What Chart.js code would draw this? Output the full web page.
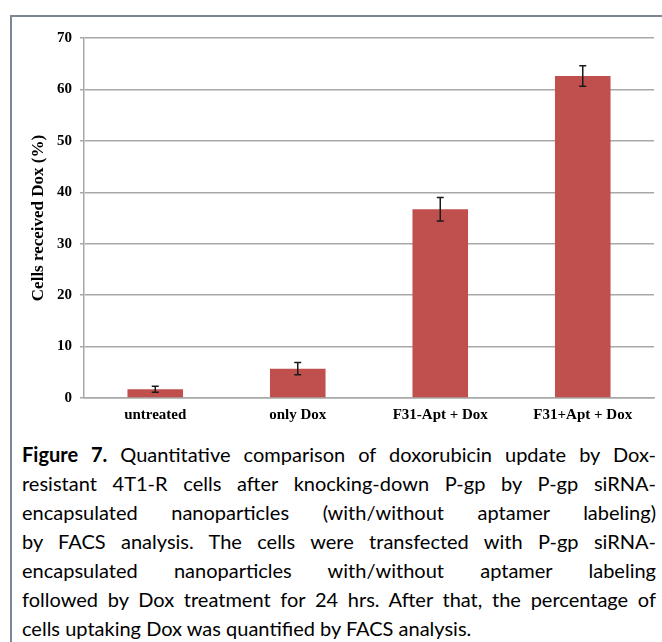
<!DOCTYPE html>
<html>
<head>
<meta charset="utf-8">
<script src="https://cdn.jsdelivr.net/npm/chart.js@4.4.1/dist/chart.umd.min.js"></script>
<style>
  html, body { margin: 0; padding: 0; background: #fff; }
  body { width: 662px; height: 642px; position: relative; overflow: hidden; }
  .frame {
    position: absolute; left: 10px; top: 15px; right: -10px; bottom: -10px;
    border-left: 2px solid #7b8794; border-top: 2px solid #7b8794;
  }
  .plot { position: absolute; left: 0; top: 0; width: 662px; height: 432px; }
  .caption {
    position: absolute; left: 22px; top: 440px; width: 634px;
    font-family: Lato, "Liberation Sans", sans-serif; font-size: 20px;
    line-height: 29px; color: #000;
  }
  .caption div { text-align: justify; text-align-last: justify; white-space: nowrap; }
  .caption div.last { text-align-last: left; }
</style>
</head>
<body>
<div class="frame"></div>
<div class="plot"><canvas id="uptakeChart"></canvas></div>
<div class="caption">
  <div><b>Figure 7.</b> Quantitative comparison of doxorubicin update by Dox-</div>
  <div>resistant 4T1-R cells after knocking-down P-gp by P-gp siRNA-</div>
  <div>encapsulated nanoparticles (with/without aptamer labeling)</div>
  <div>by FACS analysis. The cells were transfected with P-gp siRNA-</div>
  <div>encapsulated nanoparticles with/without aptamer labeling</div>
  <div>followed by Dox treatment for 24 hrs. After that, the percentage of</div>
  <div class="last">cells uptaking Dox was quantified by FACS analysis.</div>
</div>
<script>
// data
const groups = ['untreated', 'only Dox', 'F31-Apt + Dox', 'F31+Apt + Dox'];
const uptake = [1.7, 5.7, 36.7, 62.6];      // % cells received Dox
const uptakeErr = [0.6, 1.2, 2.3, 2.0];     // error bar half-length
const yTicks = [0, 10, 20, 30, 40, 50, 60, 70];

const serif = 'Liberation Serif, "Times New Roman", serif';

// error bars drawn on top of the bars
const errorBars = {
    id: 'errorBars',
    afterDatasetsDraw(chart) {
        const ctx = chart.ctx;
        const y = chart.scales.y;
        const meta = chart.getDatasetMeta(0);
        ctx.save();
        ctx.strokeStyle = '#1a1a1a';
        ctx.lineWidth = 1.5;
        meta.data.forEach((bar, i) => {
            const top = y.getPixelForValue(uptake[i] + uptakeErr[i]);
            const bottom = y.getPixelForValue(uptake[i] - uptakeErr[i]);
            ctx.beginPath();
            ctx.moveTo(bar.x, top);
            ctx.lineTo(bar.x, bottom);
            ctx.moveTo(bar.x - 3.5, top);
            ctx.lineTo(bar.x + 3.5, top);
            ctx.moveTo(bar.x - 3.5, bottom);
            ctx.lineTo(bar.x + 3.5, bottom);
            ctx.stroke();
        });
        ctx.restore();
    }
};

const ctx = document.getElementById('uptakeChart').getContext('2d');
const uptakeChart = new Chart(ctx, {
    type: 'bar',
    data: {
        labels: groups,
        datasets: [{
            data: uptake,
            backgroundColor: '#C0504D',
            borderWidth: 0,
            categoryPercentage: 1,
            barPercentage: 0.39
        }]
    },
    options: {
        responsive: true,
        maintainAspectRatio: false,
        animation: false,
        layout: {
            padding: { top: 38, right: 8, left: 0, bottom: 0 }
        },
        plugins: {
            legend: { display: false },
            tooltip: { enabled: false }
        },
        scales: {
            y: {
                min: 0,
                max: 70,
                afterBuildTicks: (axis) => { axis.ticks = yTicks.map(v => ({ value: v })); },
                afterFit: (axis) => { axis.width = 84; },
                ticks: {
                    color: '#000',
                    padding: 8,
                    font: { family: serif, size: 15, weight: 'bold' }
                },
                grid: {
                    color: '#a8a8a8',
                    lineWidth: 1.5,
                    tickLength: 4
                },
                border: { color: '#a8a8a8', width: 1.5 },
                title: {
                    display: true,
                    text: 'Cells received Dox (%)',
                    color: '#000',
                    padding: { top: 28 },
                    font: { family: serif, size: 17, weight: 'bold' }
                }
            },
            x: {
                afterFit: (axis) => { axis.height = 34; },
                ticks: {
                    color: '#000',
                    padding: 8,
                    maxRotation: 0,
                    font: { family: serif, size: 15, weight: 'bold' }
                },
                grid: { display: false, drawTicks: false },
                border: { color: '#a8a8a8', width: 1.5 }
            }
        }
    },
    plugins: [errorBars]
});
</script>
</body>
</html>
